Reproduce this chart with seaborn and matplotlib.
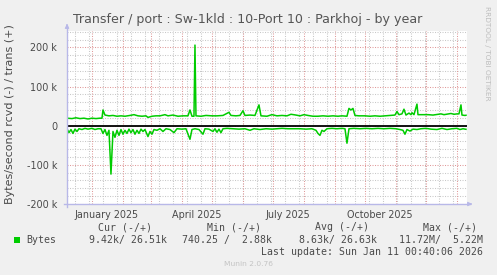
import matplotlib
matplotlib.use("Agg")
import matplotlib.pyplot as plt
from matplotlib.patches import Rectangle
import pandas as pd
import seaborn as sns

# ---------------- data (values in k bytes/second) ----------------
trans_dates = [
    "2024-12-07", "2024-12-12", "2024-12-16", "2024-12-20", "2024-12-24", "2024-12-28",
    "2025-01-01", "2025-01-05", "2025-01-09", "2025-01-11", "2025-01-12", "2025-01-14",
    "2025-01-18", "2025-01-22", "2025-01-26", "2025-01-30", "2025-02-03", "2025-02-08",
    "2025-02-12", "2025-02-16", "2025-02-20", "2025-02-24", "2025-02-26", "2025-03-02",
    "2025-03-06", "2025-03-10", "2025-03-15", "2025-03-18", "2025-03-23", "2025-03-28",
    "2025-04-02", "2025-04-07", "2025-04-09", "2025-04-11", "2025-04-13", "2025-04-14",
    "2025-04-15", "2025-04-20", "2025-04-25", "2025-05-01", "2025-05-06", "2025-05-12",
    "2025-05-18", "2025-05-20", "2025-05-25", "2025-05-29", "2025-06-01", "2025-06-03",
    "2025-06-08", "2025-06-13", "2025-06-17", "2025-06-19", "2025-06-25", "2025-06-30",
    "2025-07-05", "2025-07-10", "2025-07-15", "2025-07-19", "2025-07-24", "2025-07-28",
    "2025-08-01", "2025-08-05", "2025-08-10", "2025-08-15", "2025-08-20", "2025-08-25",
    "2025-08-30", "2025-09-04", "2025-09-08", "2025-09-13", "2025-09-15", "2025-09-17",
    "2025-09-19", "2025-09-21", "2025-09-25", "2025-10-01", "2025-10-06", "2025-10-11",
    "2025-10-16", "2025-10-21", "2025-10-26", "2025-10-31", "2025-11-02", "2025-11-04",
    "2025-11-07", "2025-11-09", "2025-11-11", "2025-11-14", "2025-11-16", "2025-11-17",
    "2025-11-19", "2025-11-22", "2025-11-23", "2025-11-28", "2025-12-03", "2025-12-08",
    "2025-12-16", "2025-12-19", "2025-12-26", "2025-12-29", "2026-01-01", "2026-01-03",
    "2026-01-05", "2026-01-06", "2026-01-09", "2026-01-10",
]
trans_values = [
    19, 18, 20, 18, 19, 17,
    19, 18, 19, 19, 40, 27,
    25, 26, 24, 25, 24, 26,
    28, 25, 24, 25, 21, 24,
    25, 25, 28, 25, 27, 24,
    25, 25, 40, 24, 24, 206,
    25, 24, 26, 25, 25, 26,
    34, 26, 25, 26, 38, 26,
    27, 26, 53, 25, 24, 28,
    25, 26, 25, 29, 27, 25,
    28, 26, 24, 24, 25, 24,
    25, 24, 25, 24, 44, 40,
    44, 26, 25, 25, 24, 25,
    24, 25, 26, 27, 36, 28,
    30, 42, 27, 32, 28, 33,
    28, 55, 28, 28, 28, 27,
    30, 28, 31, 29, 30, 30,
    53, 27, 26, 26.5,
]

rcvd_dates = [
    "2024-12-07", "2024-12-09", "2024-12-11", "2024-12-13", "2024-12-15", "2024-12-17",
    "2024-12-19", "2024-12-22", "2024-12-25", "2024-12-28", "2025-01-01", "2025-01-04",
    "2025-01-07", "2025-01-10", "2025-01-12", "2025-01-14", "2025-01-16", "2025-01-18",
    "2025-01-20", "2025-01-22", "2025-01-24", "2025-01-26", "2025-01-28", "2025-01-30",
    "2025-02-01", "2025-02-03", "2025-02-05", "2025-02-07", "2025-02-09", "2025-02-11",
    "2025-02-13", "2025-02-15", "2025-02-17", "2025-02-19", "2025-02-21", "2025-02-23",
    "2025-02-26", "2025-02-28", "2025-03-02", "2025-03-04", "2025-03-07", "2025-03-10",
    "2025-03-13", "2025-03-16", "2025-03-20", "2025-03-24", "2025-03-27", "2025-04-01",
    "2025-04-05", "2025-04-09", "2025-04-11", "2025-04-14", "2025-04-18", "2025-04-22",
    "2025-04-24", "2025-04-28", "2025-05-02", "2025-05-04", "2025-05-06", "2025-05-08",
    "2025-05-10", "2025-05-12", "2025-05-16", "2025-05-22", "2025-05-28", "2025-06-03",
    "2025-06-08", "2025-06-12", "2025-06-18", "2025-06-24", "2025-06-30", "2025-07-05",
    "2025-07-10", "2025-07-16", "2025-07-22", "2025-07-28", "2025-08-03", "2025-08-09",
    "2025-08-13", "2025-08-15", "2025-08-17", "2025-08-19", "2025-08-21", "2025-08-24",
    "2025-08-29", "2025-09-03", "2025-09-08", "2025-09-11", "2025-09-13", "2025-09-15",
    "2025-09-20", "2025-09-26", "2025-10-02", "2025-10-08", "2025-10-14", "2025-10-20",
    "2025-10-26", "2025-11-01", "2025-11-05", "2025-11-08", "2025-11-10", "2025-11-12",
    "2025-11-15", "2025-11-18", "2025-11-22", "2025-11-26", "2025-12-01", "2025-12-06",
    "2025-12-12", "2025-12-17", "2025-12-22", "2025-12-27", "2026-01-01", "2026-01-04",
    "2026-01-07", "2026-01-10",
]
rcvd_values = [
    8, 18, 10, 20, 9, 15,
    8, 10, 7, 9, 7, 10,
    8, 8, 20, 10, 25, 12,
    124, 15, 30, 12, 25, 10,
    22, 12, 20, 9, 18, 10,
    22, 12, 20, 9, 15, 10,
    28, 15, 22, 10, 12, 8,
    15, 8, 10, 18, 8, 9,
    8, 35, 10, 8, 10, 22,
    8, 9, 15, 8, 17, 9,
    18, 8, 7, 8, 9, 8,
    12, 8, 10, 8, 9, 8,
    7, 8, 8, 8, 9, 8,
    12, 20, 25, 12, 15, 8,
    7, 8, 7, 8, 45, 8,
    7, 8, 7, 8, 7, 8,
    7, 8, 10, 12, 22, 10,
    14, 9, 10, 8, 7, 9,
    10, 7, 10, 8, 7, 10,
    8, 9.4,
]

y_ticks = [-200, -100, 0, 100, 200]
y_tick_labels = ["-200 k", "-100 k", "0", "100 k", "200 k"]
x_tick_dates = ["2025-01-16", "2025-04-16", "2025-07-16", "2025-10-16"]
x_tick_labels = ["January 2025", "April 2025", "July 2025", "October 2025"]

title = "Transfer / port : Sw-1kld : 10-Port 10 : Parkhoj - by year"
ylabel = "Bytes/second rcvd (-) / trans (+)"
legend_head = ["Cur (-/+)", "Min (-/+)", "Avg (-/+)", "Max (-/+)"]
legend_vals = ["9.42k/ 26.51k", "740.25 /  2.88k", "8.63k/ 26.63k", "11.72M/  5.22M"]
last_update = "Last update: Sun Jan 11 00:40:06 2026"

# ---------------- frames ----------------
trans_df = pd.DataFrame({"date": pd.to_datetime(trans_dates),
                         "value": [v * 1000 for v in trans_values]})
rcvd_df = pd.DataFrame({"date": pd.to_datetime(rcvd_dates),
                        "value": [-v * 1000 for v in rcvd_values]})

# ---------------- figure ----------------
W, H = 497, 275
BG = "#F0F0F0"
GREEN = "#00CC00"
TXT = "#4a4a4a"
fig = plt.figure(figsize=(W / 100, H / 100), dpi=100, facecolor=BG)

L, R, T, B = 67, 467, 31, 204
ax = fig.add_axes([L / W, 1 - B / H, (R - L) / W, (B - T) / H])
ax.set_facecolor("white")
for s in ax.spines.values():
    s.set_visible(False)

x0 = pd.Timestamp("2024-12-07 00:40")
x1 = pd.Timestamp("2026-01-11 00:40")
ax.set_xlim(x0, x1)
ax.set_ylim(-200500, 242000)

# grid
minor_col = "#c8c8c8"
major_col = "#e09a9a"
dots = (0, (1, 1.4))
for d in pd.date_range("2024-12-15", "2026-01-11", freq="14D"):
    ax.axvline(d, color=minor_col, lw=0.75, ls=dots, zorder=1)
for yv in range(-200000, 242000, 20000):
    if yv % 100000 != 0:
        ax.axhline(yv, color=minor_col, lw=0.75, ls=dots, zorder=1)
for d in pd.date_range("2025-01-01", "2026-01-01", freq="MS"):
    ax.axvline(d, color=major_col, lw=0.75, ls=dots, zorder=2)
for yv in y_ticks:
    ax.axhline(yv * 1000, color=major_col, lw=0.75, ls=dots, zorder=2)

ax.axhline(0, color="black", lw=1.3, zorder=3)

sns.lineplot(data=trans_df, x="date", y="value", ax=ax, color=GREEN, lw=1.1, zorder=4)
sns.lineplot(data=rcvd_df, x="date", y="value", ax=ax, color=GREEN, lw=1.1, zorder=4)

ax.set_xlabel("")
ax.set_ylabel("")
ax.set_yticks([v * 1000 for v in y_ticks])
ax.set_yticklabels(y_tick_labels)
ax.set_xticks(pd.to_datetime(x_tick_dates))
ax.set_xticklabels(x_tick_labels)
ax.tick_params(axis="both", length=0, labelsize=6.9, colors=TXT)
ax.tick_params(axis="y", pad=7)
ax.tick_params(axis="x", pad=4)

# axes arrows
axis_col = "#b8b8e8"
def px(x, y):
    return (x / W, 1 - y / H)
fig.add_artist(plt.Line2D([px(64, 0)[0], px(470, 0)[0]], [px(0, 204)[1]] * 2,
                          color=axis_col, lw=1))
fig.add_artist(plt.Line2D([px(67, 0)[0]] * 2, [px(0, 207)[1], px(0, 26)[1]],
                          color=axis_col, lw=1))
ax.annotate("", xy=px(475, 204), xytext=px(468, 204), xycoords="figure fraction",
            arrowprops=dict(arrowstyle="-|>", color=axis_col, lw=0.8, mutation_scale=6))
ax.annotate("", xy=px(67, 21), xytext=px(67, 28), xycoords="figure fraction",
            arrowprops=dict(arrowstyle="-|>", color=axis_col, lw=0.8, mutation_scale=6))

# texts
fig.text(248 / W, 1 - 19.5 / H, title, ha="center", va="center", fontsize=9.1,
         color="#555555", family="DejaVu Sans")
fig.text(10 / W, 1 - 114 / H, ylabel, ha="center", va="center", rotation=90,
         fontsize=8.0, color=TXT, family="DejaVu Sans")
fig.text(487.5 / W, 1 - 53 / H, "RRDTOOL / TOBI OETIKER", ha="center", va="center",
         rotation=-90, fontsize=5.3, color="#bdbdbd", family="DejaVu Sans")

mono = "DejaVu Sans Mono"
fs = 7.1
head_x = [98.3, 206.7, 315, 422.7]
for hx, t in zip(head_x, legend_head):
    fig.text(hx / W, 1 - 227.5 / H, t, ha="left", va="center", fontsize=fs,
             family=mono, color=TXT)
fig.patches.append(Rectangle(px(14, 243), 6 / W, 6 / H, transform=fig.transFigure,
                             facecolor=GREEN, edgecolor="none"))
fig.text(26.7 / W, 1 - 240 / H, "Bytes", ha="left", va="center", fontsize=fs,
         family=mono, color=TXT)
val_right = [166.7, 271.7, 376.7, 482.7]
for vx, t in zip(val_right, legend_vals):
    fig.text(vx / W, 1 - 240 / H, t, ha="right", va="center", fontsize=fs,
             family=mono, color=TXT)
fig.text(482.7 / W, 1 - 251.8 / H, last_update, ha="right", va="center", fontsize=fs,
         family=mono, color=TXT)
fig.text(248.3 / W, 1 - 264 / H, "Munin 2.0.76", ha="center", va="center",
         fontsize=5.4, family="DejaVu Sans", color="#c4c4c4")

fig.savefig("out.png", dpi=100, facecolor=BG)
